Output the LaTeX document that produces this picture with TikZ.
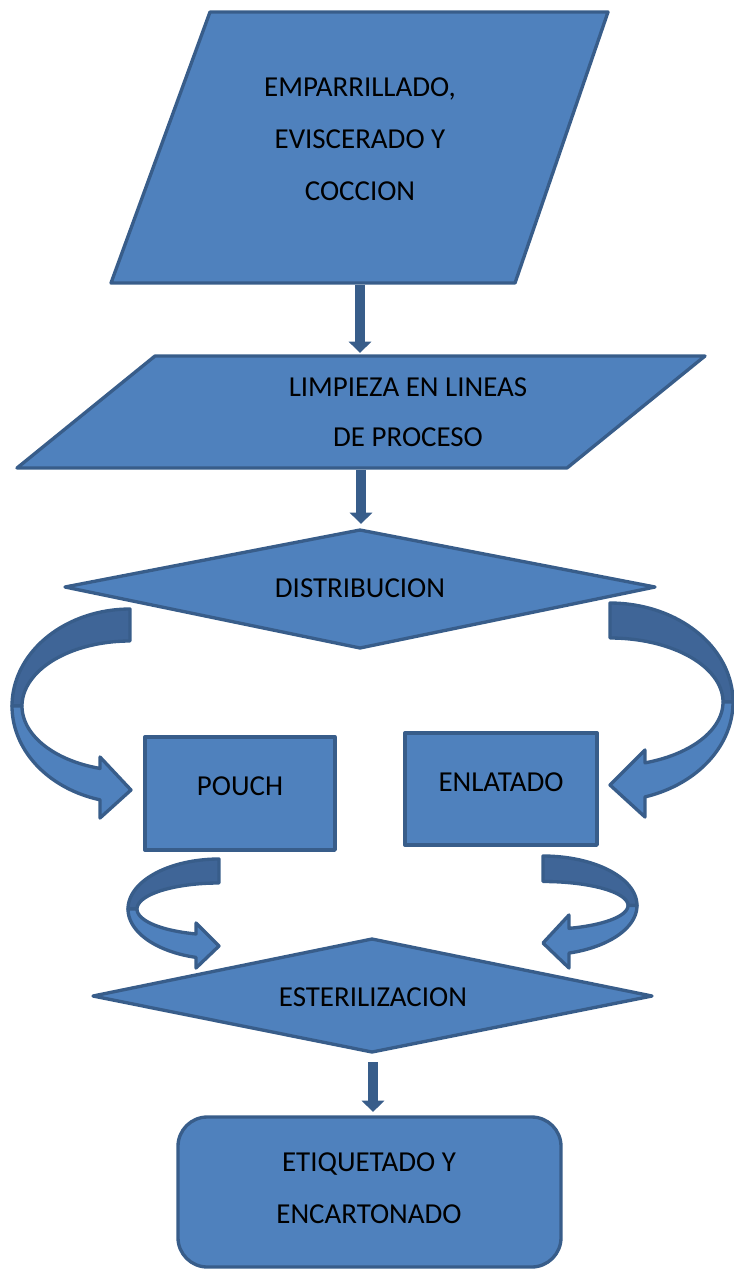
\documentclass[tikz,border=0pt]{standalone}
\usepackage{fontspec}
\setmainfont{Carlito}
\usetikzlibrary{arrows.meta}
\definecolor{boxfill}{HTML}{4F81BD}
\definecolor{boxline}{HTML}{385D8A}
\definecolor{ribdark}{HTML}{3F6597}
\tikzset{
  boxsty/.style={fill=boxfill, draw=boxline, line width=2.5pt, line join=round},
  ribback/.style={fill=ribdark, draw=boxline, line width=2.5pt, line join=round},
  ribfront/.style={fill=boxfill, draw=boxline, line width=2.5pt, line join=round},
  blk/.style={draw=boxline, line width=7.5pt, -{Triangle[width=16.5pt,length=8.5pt]}},
  lbl/.style={font=\fontsize{21.7}{39}\selectfont, align=center, inner sep=0pt, text=black},
}
\begin{document}
\begin{tikzpicture}[x=0.75pt,y=-0.75pt]
\useasboundingbox (0,0) rectangle (733,1271);

% shapes
\draw[boxsty] (210,12) -- (608,12) -- (515,283) -- (111,283) -- cycle;
\draw[boxsty] (155,356) -- (705,356) -- (567,468) -- (17,468) -- cycle;
\draw[boxsty] (65,587) -- (360,530) -- (655,587) -- (360,648) -- cycle;
\draw[boxsty] (145,737) rectangle (335,850);
\draw[boxsty] (405,733) rectangle (597,845);
\draw[boxsty] (93,996) -- (372,939) -- (652,996) -- (372,1052) -- cycle;
\draw[boxsty, rounded corners=22pt] (178,1117) rectangle (561,1267);

% anchor points for connectors
\coordinate (emp-s) at (360,285);
\coordinate (lim-n) at (360,353);
\coordinate (lim-s) at (361,470);
\coordinate (dis-n) at (361,524);
\coordinate (est-s) at (373,1062);
\coordinate (eti-n) at (373,1112);

% text
\node[lbl] (emp) at (360,139) {EMPARRILLADO,\\EVISCERADO Y\\COCCION};
\node[lbl, font=\fontsize{21.7}{37.5}\selectfont] (lim) at (408,412) {LIMPIEZA EN LINEAS\\DE PROCESO};
\node[lbl] (dis) at (360,588) {DISTRIBUCION};
\node[lbl] (pou) at (240,786) {POUCH};
\node[lbl] (enl) at (501,782) {ENLATADO};
\node[lbl] (est) at (373,997) {ESTERILIZACION};
\node[lbl] (eti) at (369,1188) {ETIQUETADO Y\\ENCARTONADO};

% straight connectors
\draw[blk] (emp-s) -- (lim-n);
\draw[blk] (lim-s) -- (dis-n);
\draw[blk] (est-s) -- (eti-n);

% big left ribbon arrow (DISTRIBUCION -> POUCH)
\draw[ribback] plot[domain=270:180, samples=40, variable=\t] ({130+118*cos(\t)},{706+97*sin(\t)})
  -- plot[domain=180:270, samples=40, variable=\t] ({130+108*cos(\t)},{706+65*sin(\t)}) -- cycle;
\draw[ribfront] plot[domain=180:104.7, samples=40, variable=\t] ({130+118*cos(\t)},{706+97*sin(\t)})
  -- (100,818) -- (131,790) -- (100,757)
  -- plot[domain=106.1:180, samples=40, variable=\t] ({130+108*cos(\t)},{706+65*sin(\t)}) -- cycle;

% big right ribbon arrow (DISTRIBUCION -> ENLATADO)
\draw[ribback] plot[domain=270:360, samples=40, variable=\t] ({610+123*cos(\t)},{702+99*sin(\t)})
  -- plot[domain=360:270, samples=40, variable=\t] ({610+113*cos(\t)},{702+64*sin(\t)}) -- cycle;
\draw[ribfront] plot[domain=0:73.47, samples=40, variable=\t] ({610+123*cos(\t)},{702+99*sin(\t)})
  -- (645,817) -- (610,785) -- (645,750)
  -- plot[domain=71.96:0, samples=40, variable=\t] ({610+113*cos(\t)},{702+64*sin(\t)}) -- cycle;

% small left ribbon arrow (POUCH -> ESTERILIZACION)
\draw[ribback] plot[domain=270:180, samples=40, variable=\t] ({219+91*cos(\t)},{909+50*sin(\t)})
  -- plot[domain=180:270, samples=40, variable=\t] ({219+82*cos(\t)},{909+26*sin(\t)}) -- cycle;
\draw[ribfront] plot[domain=180:104.64, samples=40, variable=\t] ({219+91*cos(\t)},{909+50*sin(\t)})
  -- (196,968) -- (219,946) -- (196,923)
  -- plot[domain=106.29:180, samples=40, variable=\t] ({219+82*cos(\t)},{909+26*sin(\t)}) -- cycle;

% small right ribbon arrow (ENLATADO -> ESTERILIZACION)
\draw[ribback] plot[domain=270:360, samples=40, variable=\t] ({543+94*cos(\t)},{905.5+49.5*sin(\t)})
  -- plot[domain=360:270, samples=40, variable=\t] ({543+85*cos(\t)},{905.5+24*sin(\t)}) -- cycle;
\draw[ribfront] plot[domain=0:73.94, samples=40, variable=\t] ({543+94*cos(\t)},{905.5+49.5*sin(\t)})
  -- (569,968) -- (543,943) -- (569,915)
  -- plot[domain=72.19:0, samples=40, variable=\t] ({543+85*cos(\t)},{905.5+24*sin(\t)}) -- cycle;
\end{tikzpicture}
\end{document}
